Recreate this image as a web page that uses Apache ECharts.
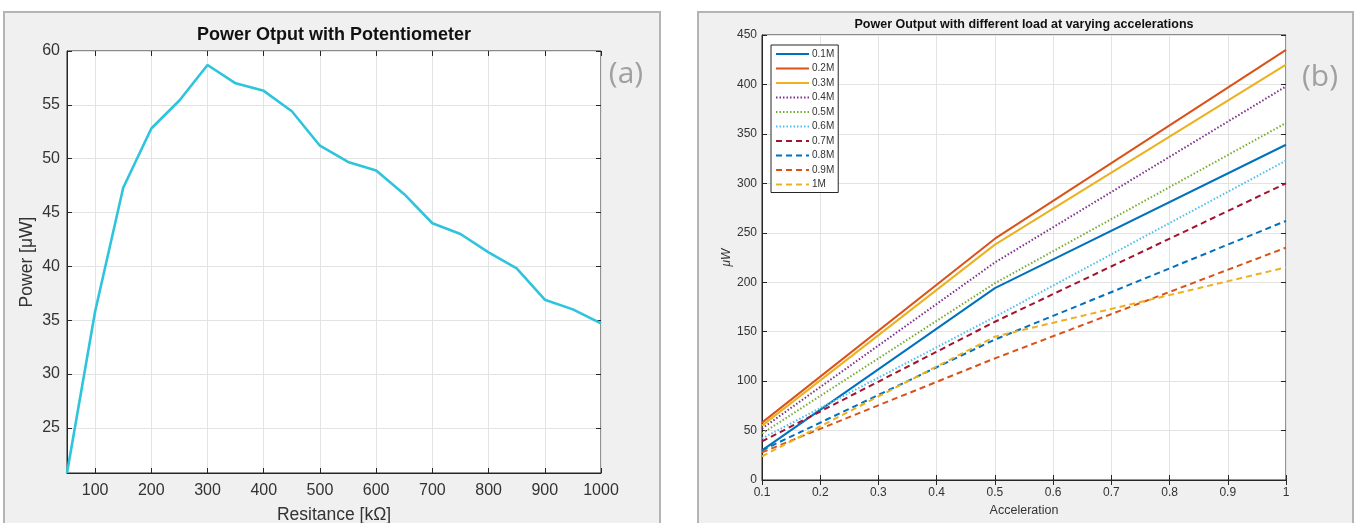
<!DOCTYPE html>
<html><head><meta charset="utf-8">
<script src="https://cdn.jsdelivr.net/npm/echarts@6/dist/echarts.min.js"></script>
<style>html,body{margin:0;padding:0;background:#fff}#c{width:1357px;height:523px}</style>
</head><body><div id="c"></div>
<script>
// ---- Panel (a) data ----
const resistance = [50,100,150,200,250,300,350,400,450,500,550,600,650,700,750,800,850,900,950,1000];
const power = [20.8,35.8,47.3,52.8,55.4,58.7,57.0,56.3,54.4,51.2,49.7,48.9,46.7,44.0,43.0,41.3,39.8,36.9,36.0,34.7];
const resTicks = [100,200,300,400,500,600,700,800,900,1000];
const powerTicks = [25,30,35,40,45,50,55,60];
const resMin = 50, resMax = 1000, powerMin = 20.8, powerMax = 60;

// ---- Panel (b) data ----
const accel = [0.1, 0.5, 1];
const loads = ['0.1M','0.2M','0.3M','0.4M','0.5M','0.6M','0.7M','0.8M','0.9M','1M'];
const load01 = [30, 194, 339];
const load02 = [58, 244, 435];
const load03 = [55, 238, 420];
const load04 = [52, 220, 398];
const load05 = [47, 199, 361];
const load06 = [42, 165, 323];
const load07 = [39, 160, 300];
const load08 = [30, 142, 262];
const load09 = [28, 123, 235];
const load10 = [24, 145, 215];
const accelTicks = [0.1,0.2,0.3,0.4,0.5,0.6,0.7,0.8,0.9,1];
const uwTicks = [0,50,100,150,200,250,300,350,400,450];

const loadValues = [load01,load02,load03,load04,load05,load06,load07,load08,load09,load10];
const loadColors = ['#0072BD','#D95319','#EDB120','#7E2F8E','#77AC30','#4DBEEE','#A2142F','#0072BD','#D95319','#EDB120'];
const loadDash = ['solid','solid','solid',[1.5,2],[1.5,2],[1.5,2],[6,4],[6,4],[6,4],[6,4]];

const FONT = "'Liberation Sans', Arial, sans-serif";
const TXT = '#333333';
const AX = '#262626';
const GRIDC = '#e3e3e3';

function axisBase(o) {
  return Object.assign({
    type: 'value',
    axisLine: {show: true, lineStyle: {color: AX, width: 1}},
    splitLine: {show: true, lineStyle: {color: GRIDC, width: 1}}
  }, o);
}
function mirror(o) {
  return Object.assign({
    type: 'value',
    axisLine: {show: false},
    axisLabel: {show: false},
    splitLine: {show: false}
  }, o);
}
function ticks(vals) {
  return {show: true, inside: true, length: 5, lineStyle: {color: AX}, customValues: vals};
}
const plain = v => String(v);

const chart = echarts.init(document.getElementById('c'), null, {renderer: 'canvas'});

const series = [{
  type: 'line', xAxisIndex: 0, yAxisIndex: 0,
  data: resistance.map((r, i) => [r, power[i]]),
  symbol: 'none', silent: true,
  lineStyle: {color: '#2EC4DC', width: 2.6},
  z: 5
}];
loads.forEach((name, k) => {
  series.push({
    type: 'line', name: name, xAxisIndex: 2, yAxisIndex: 2,
    data: accel.map((a, i) => [a, loadValues[k][i]]),
    symbol: 'none', silent: true,
    color: loadColors[k],
    lineStyle: {color: loadColors[k], width: 2, type: loadDash[k]},
    z: 5
  });
});

const option = {
  animation: false,
  backgroundColor: '#ffffff',
  graphic: [
    {type: 'rect', shape: {x: 4, y: 12, width: 656, height: 530}, style: {fill: '#f0f0f0', stroke: '#b4b4b4', lineWidth: 2}, z: -10, silent: true},
    {type: 'rect', shape: {x: 698, y: 12, width: 655, height: 530}, style: {fill: '#f0f0f0', stroke: '#b4b4b4', lineWidth: 2}, z: -10, silent: true},
    {type: 'text', x: 334, y: 35, style: {text: 'Power Otput with Potentiometer', font: "bold 18px 'Liberation Sans', Arial, sans-serif", fill: '#111', textAlign: 'center', textVerticalAlign: 'middle'}, z: 10},
    {type: 'text', x: 1024, y: 25, style: {text: 'Power Output with different load at varying accelerations', font: "bold 12.5px 'Liberation Sans', Arial, sans-serif", fill: '#111', textAlign: 'center', textVerticalAlign: 'middle'}, z: 10},
    {type: 'text', x: 626, y: 74, style: {text: '(a)', font: "30px 'Open Sans', sans-serif", fill: '#a0a0a0', textAlign: 'center', textVerticalAlign: 'middle'}, z: 10},
    {type: 'text', x: 1320, y: 77, style: {text: '(b)', font: "30px 'Open Sans', sans-serif", fill: '#a0a0a0', textAlign: 'center', textVerticalAlign: 'middle'}, z: 10}
  ],
  grid: [
    {left: 67, top: 51, width: 534, height: 422, show: true, backgroundColor: '#ffffff', borderColor: AX, borderWidth: 1, containLabel: false, outerBoundsMode: 'none'},
    {left: 762, top: 35, width: 524, height: 445, show: true, backgroundColor: '#ffffff', borderColor: AX, borderWidth: 1, containLabel: false, outerBoundsMode: 'none'}
  ],
  xAxis: [
    axisBase({gridIndex: 0, min: resMin, max: resMax,
      axisTick: ticks(resTicks),
      axisLabel: {color: TXT, fontFamily: FONT, fontSize: 16, margin: 10, customValues: resTicks, formatter: plain},
      name: 'Resitance [kΩ]', nameLocation: 'middle', nameGap: 33,
      nameTextStyle: {color: TXT, fontFamily: FONT, fontSize: 17.5}}),
    mirror({gridIndex: 0, position: 'top', min: resMin, max: resMax, axisTick: ticks(resTicks)}),
    axisBase({gridIndex: 1, min: 0.1, max: 1,
      axisTick: ticks(accelTicks),
      axisLabel: {color: TXT, fontFamily: FONT, fontSize: 12, margin: 7, customValues: accelTicks, formatter: plain},
      name: 'Acceleration', nameLocation: 'middle', nameGap: 24,
      nameTextStyle: {color: TXT, fontFamily: FONT, fontSize: 12.5}}),
    mirror({gridIndex: 1, position: 'top', min: 0.1, max: 1, axisTick: ticks(accelTicks)})
  ],
  yAxis: [
    axisBase({gridIndex: 0, min: powerMin, max: powerMax,
      axisTick: ticks(powerTicks),
      axisLabel: {color: TXT, fontFamily: FONT, fontSize: 16, margin: 7, customValues: powerTicks, formatter: plain},
      name: 'Power [μW]', nameLocation: 'middle', nameGap: 31,
      nameTextStyle: {color: TXT, fontFamily: FONT, fontSize: 17.5}}),
    mirror({gridIndex: 0, position: 'right', min: powerMin, max: powerMax, axisTick: ticks(powerTicks)}),
    axisBase({gridIndex: 1, min: 0, max: 450,
      axisTick: ticks(uwTicks),
      axisLabel: {color: TXT, fontFamily: FONT, fontSize: 12, margin: 5, customValues: uwTicks, formatter: plain},
      name: 'μW', nameLocation: 'middle', nameGap: 28,
      nameTextStyle: {color: TXT, fontFamily: FONT, fontSize: 12, fontStyle: 'italic'}}),
    mirror({gridIndex: 1, position: 'right', min: 0, max: 450, axisTick: ticks(uwTicks)})
  ],
  legend: {
    data: loads,
    orient: 'vertical', left: 771, top: 45,
    backgroundColor: '#ffffff', borderColor: AX, borderWidth: 1,
    padding: [4, 4, 3, 4],
    itemWidth: 33, itemHeight: 10, itemGap: 4.5,
    itemStyle: {opacity: 0},
    textStyle: {color: TXT, fontFamily: FONT, fontSize: 10, padding: [0, 0, 0, -2]},
    selectedMode: false
  },
  series: series
};
chart.setOption(option);
</script>
</body></html>
